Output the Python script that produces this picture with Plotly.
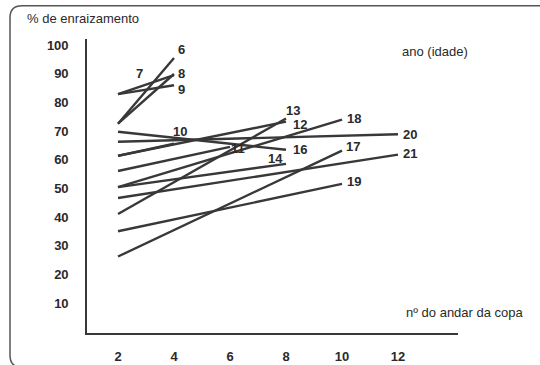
import plotly.graph_objects as go

# ---- data ----
ages    = [6, 7, 8, 9, 10, 11, 12, 13, 14, 16, 17, 18, 19, 20, 21]
x_start = [2, 2, 2, 2, 2, 2, 2, 2, 2, 2, 2, 2, 2, 2, 2]
y_start = [72.6, 82.9, 72.6, 82.9, 61.4, 56.1, 61.4, 41.1, 50.5, 69.8, 26.3, 50.5, 35.1, 66.3, 46.7]
x_end   = [4, 4, 4, 4, 4, 6, 8, 8, 8, 8, 10, 10, 10, 12, 12]
y_end   = [95.5, 89.5, 89.9, 86.0, 65.6, 64.5, 73.3, 74.4, 58.6, 63.5, 63.2, 74.0, 51.6, 68.9, 61.8]
y_ticks = [10, 20, 30, 40, 50, 60, 70, 80, 90, 100]
x_ticks = [2, 4, 6, 8, 10, 12]

# label offsets (pixels) relative to each line end: (xshift, yshift, xanchor)
label_offsets = {
    6: (2, 8, "left"), 7: (-35, 2, "center"), 8: (2, 1, "left"), 9: (2, -4, "left"),
    10: (6, 12, "center"), 11: (8, -2, "center"), 12: (5, -3, "left"), 13: (-2, 8, "left"),
    14: (-11, 5, "center"), 16: (5, 0, "left"), 17: (2, 4, "left"), 18: (3, 1, "left"),
    19: (3, 2, "left"), 20: (3, 0, "left"), 21: (3, 1, "left"),
}

LINE = "#383838"
TXT = "#2a2a2a"
FONT = "Liberation Sans, Arial, sans-serif"

fig = go.Figure()
for a, xs, ys, xe, ye in zip(ages, x_start, y_start, x_end, y_end):
    fig.add_trace(go.Scatter(x=[xs, xe], y=[ys, ye], mode="lines",
                             line=dict(color=LINE, width=2.4), showlegend=False,
                             hoverinfo="skip"))
    dx, dy, xa = label_offsets[a]
    fig.add_annotation(x=xe, y=ye, text=str(a), showarrow=False,
                       xanchor=xa, yanchor="middle", xshift=dx, yshift=dy,
                       font=dict(family=FONT, size=13, color=TXT, weight="bold"))

# plot area geometry in reference pixels: left 87, right 458, top 38, bottom 330
L, R, T, B = 87, 458, 38, 330
W, H = 540, 365
SY = 1.03
pw, ph = R - L, B - T

def px(x):
    return (x - L) / pw

def py(y):
    return (B - y) / ph

fig.update_layout(
    width=W, height=round(H * SY), autosize=False,
    margin=dict(l=L, r=W - R, t=T * SY, b=round(H * SY) - B * SY, pad=0),
    paper_bgcolor="white", plot_bgcolor="white",
    xaxis=dict(range=[0.893, 0.893 + pw / 28.0], tickvals=x_ticks,
               showgrid=False, zeroline=False, showline=True, linecolor=LINE,
               linewidth=1.6, ticks="", ticklabelstandoff=11,
               tickfont=dict(family=FONT, size=13, color=TXT, weight="bold")),
    yaxis=dict(range=[(329 - B) / 2.85, (329 - T) / 2.85], tickvals=y_ticks,
               showgrid=False, zeroline=False, showline=True, linecolor=LINE,
               linewidth=1.6, ticks="", ticklabelstandoff=14,
               tickfont=dict(family=FONT, size=13, color=TXT, weight="bold")),
    font=dict(family=FONT),
)

# axis titles / legend text
fig.add_annotation(xref="paper", yref="paper", x=px(25), y=py(18), text="% de enraizamento",
                   showarrow=False, xanchor="left", yanchor="middle",
                   font=dict(family=FONT, size=13, color=TXT))
fig.add_annotation(xref="paper", yref="paper", x=px(400), y=py(50), text="ano (idade)",
                   showarrow=False, xanchor="left", yanchor="middle",
                   font=dict(family=FONT, size=13, color=TXT))
fig.add_annotation(xref="paper", yref="paper", x=px(404), y=py(310), text="nº do andar da copa",
                   showarrow=False, xanchor="left", yanchor="middle",
                   font=dict(family=FONT, size=13, color=TXT))

# rounded frame (scanned figure border)
path = (f"M {px(545)},{py(5)} L {px(22)},{py(5)} Q {px(10)},{py(5)} {px(10)},{py(17)} "
        f"L {px(10)},{py(352)} Q {px(10)},{py(364)} {px(22)},{py(364)} L {px(545)},{py(364)}")
fig.add_shape(type="path", xref="paper", yref="paper", path=path,
              line=dict(color="#555555", width=1.5))

fig.write_html("out.html",
               config={"responsive": False, "displayModeBar": False},
               post_script="document.body.style.margin='0';document.body.style.overflow='hidden';")
